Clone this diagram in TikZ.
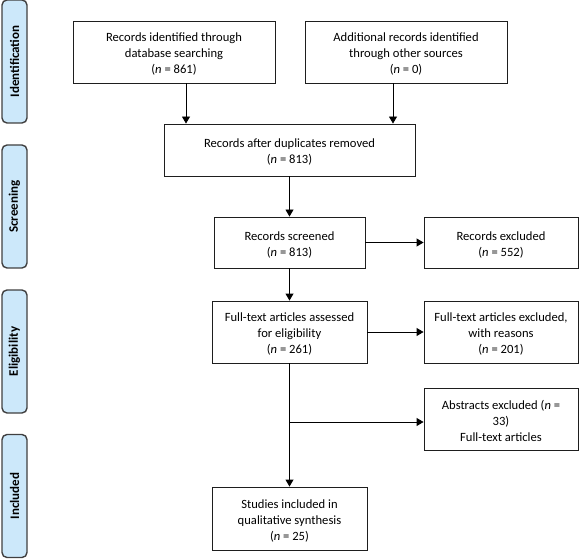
\documentclass[tikz,border=0pt]{standalone}
\usepackage{fontspec}
\setmainfont{Carlito}
\usetikzlibrary{arrows.meta}
\definecolor{sidefill}{RGB}{204,232,250}
\definecolor{sidedraw}{RGB}{64,64,64}
\definecolor{boxdraw}{RGB}{30,30,30}
\newcommand\tstrut{\rule{0pt}{13pt}}
\tikzset{
  flowbox/.style={draw=boxdraw, line width=0.9pt, fill=white, inner sep=0pt, align=center,
    font=\fontsize{12.6}{16}\selectfont},
  sidebox/.style={draw=sidedraw, line width=1.4pt, fill=sidefill, rounded corners=5pt,
    minimum width=25pt, minimum height=123pt, inner sep=0pt},
  sidetext/.style={rotate=90, font=\bfseries\fontsize{13}{15}\selectfont},
  arr/.style={line width=0.9pt, draw=black, -{Triangle[length=7pt,width=8pt]}},
  ln/.style={line width=0.9pt, draw=black}
}
\begin{document}
\begin{tikzpicture}[x=1pt,y=-1pt]
\useasboundingbox (0,0) rectangle (579,559);
% side labels
\node[sidebox] (s1) at (14.5,61.5) {};
\node[sidetext] (t1) at (s1.center) {Identification};
\node[sidebox] (s2) at (14.5,206.5) {};
\node[sidetext] (t2) at (s2.center) {Screening};
\node[sidebox] (s3) at (14.5,351.5) {};
\node[sidetext] (t3) at (s3.center) {Eligibility};
\node[sidebox] (s4) at (14.5,496) {};
\node[sidetext] (t4) at (s4.center) {Included};
% boxes
\node[flowbox, minimum width=202pt, minimum height=62pt] (b1) at (174,52)
  {\tstrut Records identified through\\database searching\\(\textit{n} = 861)};
\node[flowbox, minimum width=202pt, minimum height=62pt] (b2) at (406,52)
  {\tstrut Additional records identified\\through other sources\\(\textit{n} = 0)};
\node[flowbox, minimum width=251pt, minimum height=52pt] (b3) at (289.5,150)
  {\tstrut Records after duplicates removed\\(\textit{n} = 813)};
\node[flowbox, minimum width=151pt, minimum height=51pt] (b4) at (289.5,242.5)
  {\tstrut Records screened\\(\textit{n} = 813)};
\node[flowbox, minimum width=154pt, minimum height=51pt] (b5) at (501,242.5)
  {\tstrut Records excluded\\(\textit{n} = 552)};
\node[flowbox, minimum width=155pt, minimum height=62pt] (b6) at (289.5,332)
  {\tstrut Full-text articles assessed\\for eligibility\\(\textit{n} = 261)};
\node[flowbox, minimum width=154pt, minimum height=62pt] (b7) at (501,332)
  {\tstrut Full-text articles excluded,\\with reasons\\(\textit{n} = 201)};
\node[flowbox, minimum width=154pt, minimum height=62pt] (b8) at (501,419)
  {\tstrut Abstracts excluded (\textit{n} =\\33)\\Full-text articles};
\node[flowbox, minimum width=155pt, minimum height=63pt] (b9) at (289.5,518.5)
  {\tstrut Studies included in\\qualitative synthesis\\(\textit{n} = 25)};
% connectors
\coordinate (c1) at (186,0);
\coordinate (c2) at (393,0);
\coordinate (br) at (289.5,422);
\draw[arr] (b1.south -| c1) -- (b3.north -| c1);
\draw[arr] (b2.south -| c2) -- (b3.north -| c2);
\draw[arr] (b3.south) -- (b4.north);
\draw[arr] (b4.east) -- (b5.west);
\draw[arr] (b4.south) -- (b6.north);
\draw[arr] (b6.east) -- (b7.west);
\draw[arr] (b6.south) -- (b9.north);
\draw[arr] (br) -- (b8.west |- br);
\end{tikzpicture}
\end{document}
